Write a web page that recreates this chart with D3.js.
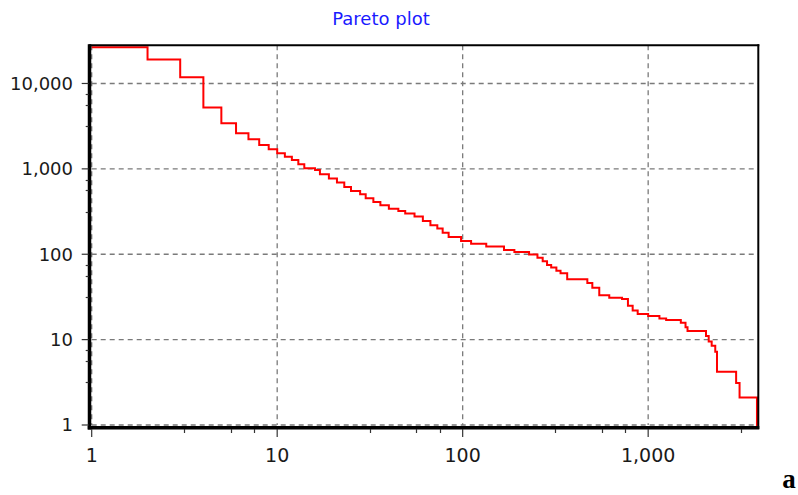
<!DOCTYPE html>
<head>
  <meta charset="utf-8">
  <script src="https://d3js.org/d3.v7.min.js"></script>
  <style>
    body { margin: 0; background: #fff; }
    text { font-family: "DejaVu Sans", sans-serif; fill: #1a1a1a; }
    .title { fill: #1a1aff; font-size: 18px; }
    .tick-label { font-size: 18px; }
    .x-label { font-size: 19px; }
    .grid { stroke: #7a7a7a; stroke-width: 1.3; stroke-dasharray: 5, 4; }
    .frame { stroke: #000; fill: none; }
    .tick { stroke: #333; stroke-width: 1.2; }
    .pareto { fill: none; stroke: #ff0000; stroke-width: 2; }
    .panel { font-family: "Liberation Serif", serif; font-weight: bold; font-size: 27px; fill: #000; }
  </style>
</head>

<body>
  <script>
    // rank (x) and value (y) at the start of each step
    var ranks = [1, 2, 3, 4, 5, 6, 7, 8, 9, 10, 11, 12, 13, 14, 16, 17, 19, 21, 23, 25,
                 28, 30, 33, 36, 40, 45, 49, 55, 61, 67, 73, 78, 84, 98, 111, 134, 167, 190, 228, 253,
                 270, 285, 300, 320, 337, 366, 470, 500, 545, 617, 723, 778, 825, 878, 1000, 1150, 1250, 1500, 1590, 1630,
                 2050, 2120, 2200, 2300, 2350, 2980, 3110, 3860, 3900];
    var values = [26500, 19100, 11800, 5230, 3420, 2610, 2220, 1900, 1700, 1520, 1390, 1270, 1130, 1016, 970, 865, 770, 690, 613, 551,
                  504, 452, 409, 374, 342, 321, 301, 276, 245, 218, 200, 179, 159, 143, 133, 123, 112, 106, 99, 91,
                  83, 75, 70, 64, 60, 51, 46, 40.5, 33, 31, 30, 25, 22, 20, 18.9, 17.7, 17, 15.8, 14, 12.6,
                  11, 9.5, 8.5, 7.2, 4.2, 3.1, 2.1, 1, 1];

    var xTicks = [1, 10, 100, 1000];
    var xTickLabels = ["1", "10", "100", "1,000"];
    var yTicks = [1, 10, 100, 1000, 10000];
    var yTickLabels = ["1", "10", "100", "1,000", "10,000"];
    var minorSteps = [3.16, 5.62, 7.5];

    var width = 798, height = 495;

    var svg = d3.select("body").append("svg")
        .attr("width", width)
        .attr("height", height);

    var x = d3.scaleLog()
        .domain([1, 3900])
        .range([91.7, 757.8]);

    var y = d3.scaleLog()
        .domain([1, 28000])
        .range([425, 45.3]);

    var x0 = x.range()[0], x1 = x.range()[1],
        y0 = y.range()[0], y1 = y.range()[1];

    var data = ranks.map(function(r, i) { return {rank: r, value: values[i]}; });

    // minor ticks: same sub-decade steps on both axes
    function minors(scale) {
      var out = [], dom = scale.domain();
      for (var d = 1; d < dom[1]; d *= 10) {
        minorSteps.forEach(function(m) {
          if (d * m < dom[1]) out.push(d * m);
        });
      }
      return out;
    }

    // grid
    svg.append("g").selectAll("line")
        .data(xTicks)
      .enter().append("line")
        .attr("class", "grid")
        .attr("x1", function(d) { return x(d); })
        .attr("x2", function(d) { return x(d); })
        .attr("y1", y1)
        .attr("y2", y0);

    svg.append("g").selectAll("line")
        .data(yTicks)
      .enter().append("line")
        .attr("class", "grid")
        .attr("x1", x0)
        .attr("x2", x1)
        .attr("y1", function(d) { return y(d); })
        .attr("y2", function(d) { return y(d); });

    // the step line
    var line = d3.line()
        .x(function(d) { return x(d.rank); })
        .y(function(d) { return y(d.value); })
        .curve(d3.curveStepAfter);

    svg.append("path")
        .datum(data)
        .attr("class", "pareto")
        .attr("d", line);

    // frame: thin top/right, thick left/bottom axes
    svg.append("line").attr("class", "frame")
        .attr("x1", x0 - 3).attr("x2", x1 + 1.5)
        .attr("y1", y1).attr("y2", y1)
        .attr("stroke-width", 2);
    svg.append("line").attr("class", "frame")
        .attr("x1", x1 + 0.5).attr("x2", x1 + 0.5)
        .attr("y1", y1 - 1).attr("y2", y0 + 4)
        .attr("stroke-width", 2);
    svg.append("line").attr("class", "frame")
        .attr("x1", x0 - 2.2).attr("x2", x0 - 2.2)
        .attr("y1", y1 - 1).attr("y2", y0 + 4.5)
        .attr("stroke-width", 3.5);
    svg.append("line").attr("class", "frame")
        .attr("x1", x0 - 4).attr("x2", x1 + 1.5)
        .attr("y1", y0 + 2.7).attr("y2", y0 + 2.7)
        .attr("stroke-width", 3.5);

    // x ticks
    svg.append("g").selectAll("line")
        .data(xTicks)
      .enter().append("line")
        .attr("class", "tick")
        .attr("x1", function(d) { return x(d); })
        .attr("x2", function(d) { return x(d); })
        .attr("y1", y0 + 4)
        .attr("y2", y0 + 12);

    svg.append("g").selectAll("line")
        .data(minors(x))
      .enter().append("line")
        .attr("class", "tick")
        .attr("x1", function(d) { return Math.round(x(d)) + 0.5; })
        .attr("x2", function(d) { return Math.round(x(d)) + 0.5; })
        .attr("y1", y0 + 4)
        .attr("y2", y0 + 8);

    svg.append("g").selectAll("text")
        .data(xTicks)
      .enter().append("text")
        .attr("class", "x-label")
        .attr("x", function(d) { return x(d); })
        .attr("y", 462)
        .attr("text-anchor", "middle")
        .text(function(d, i) { return xTickLabels[i]; });

    // y ticks
    svg.append("g").selectAll("line")
        .data(yTicks)
      .enter().append("line")
        .attr("class", "tick")
        .attr("x1", x0 - 10)
        .attr("x2", x0 - 3)
        .attr("y1", function(d) { return y(d); })
        .attr("y2", function(d) { return y(d); });

    svg.append("g").selectAll("line")
        .data(minors(y))
      .enter().append("line")
        .attr("class", "tick")
        .attr("x1", x0 - 6)
        .attr("x2", x0 - 3)
        .attr("y1", function(d) { return Math.round(y(d)) + 0.5; })
        .attr("y2", function(d) { return Math.round(y(d)) + 0.5; });

    svg.append("g").selectAll("text")
        .data(yTicks)
      .enter().append("text")
        .attr("class", "tick-label")
        .attr("x", 73)
        .attr("y", function(d) { return y(d); })
        .attr("dy", "0.36em")
        .attr("text-anchor", "end")
        .text(function(d, i) { return yTickLabels[i]; });

    // title and panel letter
    svg.append("text")
        .attr("class", "title")
        .attr("x", 381)
        .attr("y", 25)
        .attr("text-anchor", "middle")
        .text("Pareto plot");

    svg.append("text")
        .attr("class", "panel")
        .attr("x", 789)
        .attr("y", 488)
        .attr("text-anchor", "middle")
        .text("a");
  </script>
</body>
